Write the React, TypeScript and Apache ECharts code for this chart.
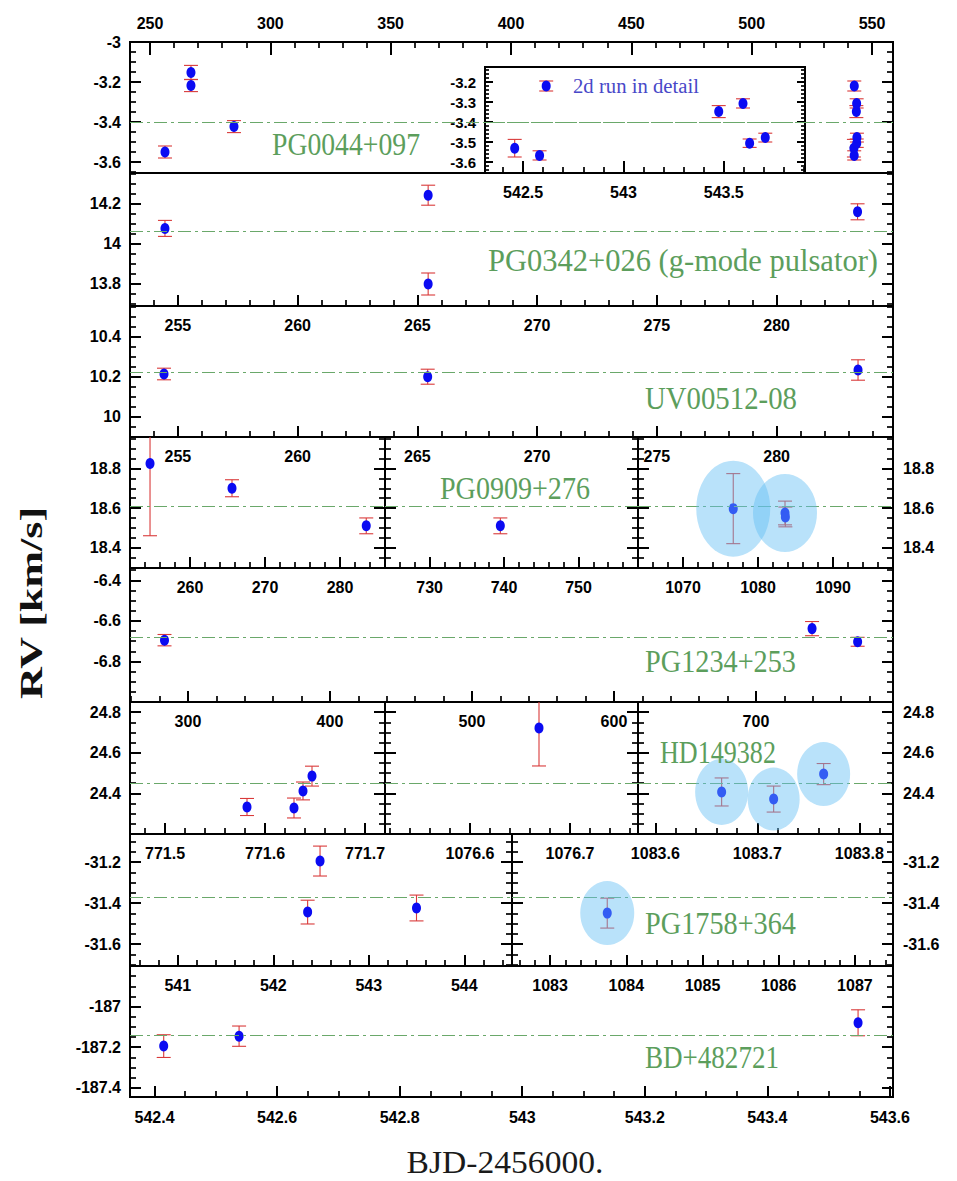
import React, { useEffect, useRef } from 'react';
import * as echarts from 'echarts';

// ---------------- data: BJD-2456000 (d), RV (km/s), error (km/s) ----------------
const PG0044_T = [256.24, 267.03, 267.03, 284.9, 542.458, 542.582, 542.615, 543.475, 543.596, 543.629, 543.707];
const PG0044_RV = [-3.55, -3.152, -3.218, -3.423, -3.531, -3.567, -3.22, -3.348, -3.307, -3.506, -3.478];
const PG0044_ERR = [0.03, 0.035, 0.03, 0.03, 0.044, 0.023, 0.025, 0.03, 0.023, 0.021, 0.022];
const PG0044_MEAN = -3.4;

const PG0342_T = [254.46, 265.45, 265.45, 283.38];
const PG0342_RV = [14.075, 14.241, 13.797, 14.158];
const PG0342_ERR = [0.04, 0.05, 0.055, 0.04];
const PG0342_MEAN = 14.065;

const UV0512_T = [254.42, 265.43, 283.4];
const UV0512_RV = [10.2125, 10.199, 10.2325];
const UV0512_ERR = [0.029, 0.0375, 0.051];
const UV0512_MEAN = 10.216;

const PG0909_T = [254.67, 265.6, 283.5, 739.5, 1076.7, 1083.6, 1083.65];
const PG0909_RV = [18.825, 18.7, 18.51, 18.51, 18.597, 18.575, 18.555];
const PG0909_ERR = [0.365, 0.043, 0.04, 0.04, 0.177, 0.06, 0.05];
const PG0909_MEAN = 18.605;
const PG0909_HIGHLIGHT = [4, 5];

const PG1234_T = [283.5, 739.5, 771.6];
const PG1234_RV = [-6.695, -6.638, -6.703];
const PG1234_ERR = [0.028, 0.035, 0.022];
const PG1234_MEAN = -6.68;

const HD149382_T = [771.582, 771.629, 771.638, 771.647, 1076.669, 1083.665, 1083.716, 1083.765];
const HD149382_RV = [24.333, 24.328, 24.412, 24.485, 24.722, 24.407, 24.372, 24.495];
const HD149382_ERR = [0.042, 0.049, 0.044, 0.049, 0.187, 0.069, 0.064, 0.052];
const HD149382_MEAN = 24.445;
const HD149382_HIGHLIGHT = [5, 6, 7];

const PG1758_T = [542.36, 542.49, 543.5, 1083.75];
const PG1758_RV = [-31.444, -31.195, -31.424, -31.449];
const PG1758_ERR = [0.058, 0.073, 0.063, 0.073];
const PG1758_MEAN = -31.37;
const PG1758_HIGHLIGHT = [3];

const BD48_T = [542.415, 542.538, 543.548];
const BD48_RV = [-187.195, -187.146, -187.08];
const BD48_ERR = [0.056, 0.05, 0.064];
const BD48_MEAN = -187.14;

const STAR_NAMES = [
  'PG0044+097',
  'PG0342+026 (g-mode pulsator)',
  'UV00512-08',
  'PG0909+276',
  'PG1234+253',
  'HD149382',
  'PG1758+364',
  'BD+482721',
];
const INSET_NOTE = '2d run in detail';
const X_TITLE = 'BJD-2456000.';
const Y_TITLE = 'RV [km/s]';

// ---------------- styles ----------------
const BLUE = '#0b0bf2';
const RED = '#d93a3a';
const GREEN = '#5c9e5c';
const GREEN_LINE = '#6aa86a';
const HILITE = 'rgba(100,190,245,0.45)';
const TICK_FONT = 'Liberation Sans';

type AxisSpec = { min: number; max: number; step: number; minor: number };

const fmt = (v: number) => String(Math.round(v * 1000) / 1000);

function makeX(gridIndex: number, a: AxisSpec, o: any = {}) {
  return {
    type: 'value',
    gridIndex,
    position: o.position || 'bottom',
    min: a.min,
    max: a.max,
    splitNumber: Math.max(1, Math.round((a.max - a.min) / a.step)),
    minInterval: a.step,
    maxInterval: a.step,
    axisLine: { show: false },
    axisTick: { show: true, inside: true, length: o.tick ?? 11, lineStyle: { color: '#000', width: 2 } },
    minorTick: { show: true, splitNumber: a.minor, length: o.mtick ?? 6, lineStyle: { color: '#000', width: 1.7 } },
    axisLabel: {
      show: o.labels !== false,
      inside: false,
      margin: o.margin ?? 11,
      showMinLabel: false,
      showMaxLabel: false,
      formatter: fmt,
      color: '#000',
      fontFamily: TICK_FONT,
      fontWeight: 'bold',
      fontSize: o.fontSize ?? 16,
    },
    splitLine: { show: false },
    minorSplitLine: { show: false },
  };
}

function makeY(gridIndex: number, a: AxisSpec, side: 'left' | 'right', o: any = {}) {
  return {
    type: 'value',
    gridIndex,
    position: side,
    min: a.min,
    max: a.max,
    splitNumber: Math.max(1, Math.round((a.max - a.min) / a.step)),
    minInterval: a.step,
    maxInterval: a.step,
    axisLine: { show: false },
    axisTick: { show: true, inside: true, length: o.tick ?? 11, lineStyle: { color: '#000', width: 2 } },
    minorTick: { show: true, splitNumber: a.minor, length: o.mtick ?? 6, lineStyle: { color: '#000', width: 1.7 } },
    axisLabel: {
      show: !!o.labels,
      inside: false,
      margin: o.margin ?? 9,
      showMinLabel: false,
      showMaxLabel: !!o.showMax,
      formatter: fmt,
      color: '#000',
      fontFamily: TICK_FONT,
      fontWeight: 'bold',
      fontSize: o.fontSize ?? 16,
    },
    splitLine: { show: false },
    minorSplitLine: { show: false },
  };
}

const renderErr = (_params: any, api: any) => {
  const x = api.value(0);
  const y = api.value(1);
  const e = api.value(2);
  const hi = api.coord([x, y + e]);
  const lo = api.coord([x, y - e]);
  const w = 7;
  const style = { stroke: RED, lineWidth: 1.1, fill: null };
  return {
    type: 'group',
    children: [
      { type: 'line', shape: { x1: hi[0], y1: hi[1], x2: lo[0], y2: lo[1] }, style },
      { type: 'line', shape: { x1: hi[0] - w, y1: hi[1], x2: hi[0] + w, y2: hi[1] }, style },
      { type: 'line', shape: { x1: lo[0] - w, y1: lo[1], x2: lo[0] + w, y2: lo[1] }, style },
    ],
  };
};

function measure(text: string, font: string) {
  const ctx = document.createElement('canvas').getContext('2d');
  if (!ctx) return 1;
  ctx.font = font;
  return ctx.measureText(text).width || 1;
}

function buildOption() {
  const grid: any[] = [];
  const xAxis: any[] = [];
  const yAxis: any[] = [];
  const series: any[] = [];

  type P = { xi: number; yi: number; xs: AxisSpec };

  const panel = (box: number[], xs: AxisSpec, ys: AxisSpec, o: any = {}): P => {
    const gi = grid.length;
    grid.push({
      left: box[0],
      top: box[1],
      width: box[2] - box[0],
      height: box[3] - box[1],
      show: true,
      borderColor: '#000',
      borderWidth: 2,
      backgroundColor: o.bg || 'transparent',
      containLabel: false,
    });
    const xi = xAxis.length;
    xAxis.push(makeX(gi, xs, o.x));
    const yi = yAxis.length;
    yAxis.push(makeY(gi, ys, 'left', o.yl));
    yAxis.push(makeY(gi, ys, 'right', o.yr));
    return { xi, yi, xs };
  };

  const plot = (p: P, T: number[], RV: number[], ERR: number[], mean: number, hl?: number[], hlSizes?: number[][]) => {
    const inX = (t: number) => t >= p.xs.min && t <= p.xs.max;
    const rows = T.map((t, i) => [t, RV[i], ERR[i]]).filter((r) => inX(r[0]));
    series.push({
      type: 'custom',
      xAxisIndex: p.xi,
      yAxisIndex: p.yi,
      clip: true,
      silent: true,
      z: 3,
      renderItem: renderErr,
      encode: { x: 0, y: 1 },
      data: rows,
    });
    series.push({
      type: 'scatter',
      xAxisIndex: p.xi,
      yAxisIndex: p.yi,
      silent: true,
      z: 4,
      symbol: 'circle',
      symbolSize: [9, 11],
      itemStyle: { color: BLUE, opacity: 1 },
      data: rows.map((r) => [r[0], r[1]]),
      markLine: {
        silent: true,
        symbol: ['none', 'none'],
        label: { show: false },
        emphasis: { disabled: true },
        lineStyle: { color: GREEN_LINE, width: 1.1, type: [13, 4, 3, 4], opacity: 1 },
        data: [{ yAxis: mean }],
      },
    });
    if (hl && hlSizes) {
      const data = hl
        .map((i, k) => ({ value: [T[i], RV[i]], symbolSize: hlSizes[k] }))
        .filter((d) => inX(d.value[0]));
      if (data.length) {
        series.push({
          type: 'scatter',
          xAxisIndex: p.xi,
          yAxisIndex: p.yi,
          silent: true,
          z: 10,
          symbol: 'circle',
          itemStyle: { color: HILITE, opacity: 1 },
          data,
        });
      }
    }
  };

  const L = 130;
  const R = 893;
  const S3 = [130, 385, 638, 893];
  const S2 = [130, 512, 893];

  // Panel 1: PG0044+097 (top axis) + inset
  const p1 = panel([L, 42, R, 173], { min: 241.7, max: 558.7, step: 50, minor: 5 }, { min: -3.655, max: -3.0, step: 0.2, minor: 4 }, {
    x: { position: 'top', tick: 13 },
    yl: { labels: true, showMax: true },
  });
  plot(p1, PG0044_T, PG0044_RV, PG0044_ERR, PG0044_MEAN);
  const inset = panel([485, 67, 805, 173], { min: 542.31, max: 543.905, step: 0.5, minor: 5 }, { min: -3.655, max: -3.125, step: 0.1, minor: 5 }, {
    bg: '#fff',
    x: { tick: 12 },
    yl: { labels: true, fontSize: 15, tick: 8, mtick: 4 },
    yr: { tick: 8, mtick: 4 },
  });
  plot(inset, PG0044_T, PG0044_RV, PG0044_ERR, PG0044_MEAN);

  // Panel 2 & 3
  const xRun1 = { min: 253.0, max: 284.86, step: 5, minor: 5 };
  const p2 = panel([L, 173, R, 306], xRun1, { min: 13.687, max: 14.352, step: 0.2, minor: 4 }, { yl: { labels: true } });
  plot(p2, PG0342_T, PG0342_RV, PG0342_ERR, PG0342_MEAN);
  const p3 = panel([L, 306, R, 437], xRun1, { min: 9.8975, max: 10.5525, step: 0.2, minor: 4 }, { yl: { labels: true } });
  plot(p3, UV0512_T, UV0512_RV, UV0512_ERR, UV0512_MEAN);

  // Panel 4: PG0909+276, three broken segments
  const y4 = { min: 18.297, max: 18.959, step: 0.2, minor: 4 };
  const x4 = [
    { min: 252, max: 286, step: 10, minor: 5 },
    { min: 724, max: 758, step: 10, minor: 5 },
    { min: 1064, max: 1098, step: 10, minor: 5 },
  ];
  const hl4 = [[74, 96], [64, 78]];
  x4.forEach((xs, k) => {
    const p = panel([S3[k], 437, S3[k + 1], 568], xs, y4, { yl: { labels: k === 0 }, yr: { labels: k === 2, margin: 10 } });
    plot(p, PG0909_T, PG0909_RV, PG0909_ERR, PG0909_MEAN, PG0909_HIGHLIGHT, hl4);
  });

  // Panel 5: PG1234+253
  const p5 = panel([L, 568, R, 702], { min: 259.2, max: 796.5, step: 100, minor: 5 }, { min: -7.0, max: -6.339, step: 0.2, minor: 4 }, { yl: { labels: true } });
  plot(p5, PG1234_T, PG1234_RV, PG1234_ERR, PG1234_MEAN);

  // Panel 6: HD149382, three broken segments
  const y6 = { min: 24.2, max: 24.85, step: 0.2, minor: 4 };
  const x6 = [
    { min: 771.465, max: 771.72, step: 0.1, minor: 5 },
    { min: 1076.515, max: 1076.768, step: 0.1, minor: 5 },
    { min: 1083.583, max: 1083.833, step: 0.1, minor: 5 },
  ];
  const hl6 = [[53, 66], [52, 63], [53, 64]];
  x6.forEach((xs, k) => {
    const p = panel([S3[k], 702, S3[k + 1], 834], xs, y6, { yl: { labels: k === 0 }, yr: { labels: k === 2, margin: 10 } });
    plot(p, HD149382_T, HD149382_RV, HD149382_ERR, HD149382_MEAN, HD149382_HIGHLIGHT, hl6);
  });

  // Panel 7: PG1758+364, two broken segments
  const y7 = { min: -31.707, max: -31.063, step: 0.2, minor: 4 };
  const x7 = [
    { min: 540.5, max: 544.5, step: 1, minor: 5 },
    { min: 1082.5, max: 1087.5, step: 1, minor: 5 },
  ];
  const hl7 = [[54, 64]];
  x7.forEach((xs, k) => {
    const p = panel([S2[k], 834, S2[k + 1], 966], xs, y7, { yl: { labels: k === 0 }, yr: { labels: k === 1, margin: 10 } });
    plot(p, PG1758_T, PG1758_RV, PG1758_ERR, PG1758_MEAN, PG1758_HIGHLIGHT, hl7);
  });

  // Panel 8: BD+482721
  const p8 = panel([L, 966, R, 1097], { min: 542.36, max: 543.605, step: 0.2, minor: 4 }, { min: -187.446, max: -186.8, step: 0.2, minor: 4 }, {
    yl: { labels: true },
    x: { margin: 12 },
  });
  plot(p8, BD48_T, BD48_RV, BD48_ERR, BD48_MEAN);

  // ---------- annotations ----------
  const labelPos = [
    { x: 272, y: 144, w: 148 },
    { x: 488, y: 261, w: 390 },
    { x: 645, y: 398, w: 152 },
    { x: 440, y: 489, w: 150 },
    { x: 645, y: 662, w: 151 },
    { x: 660, y: 752, w: 116 },
    { x: 645, y: 924, w: 151 },
    { x: 645, y: 1057, w: 134 },
  ];
  const nameFont = '31px "Liberation Serif"';
  const graphic: any[] = STAR_NAMES.map((text, i) => {
    const lp = labelPos[i];
    return {
      type: 'text',
      x: lp.x,
      y: lp.y,
      scaleX: lp.w / measure(text, nameFont),
      z: 50,
      silent: true,
      style: { text, font: nameFont, fill: GREEN, textAlign: 'left', textVerticalAlign: 'middle' },
    };
  });
  const noteFont = '20px "Liberation Serif"';
  graphic.push({
    type: 'text',
    x: 573,
    y: 86,
    scaleX: 126 / measure(INSET_NOTE, noteFont),
    z: 50,
    silent: true,
    style: { text: INSET_NOTE, font: noteFont, fill: '#4848c8', textAlign: 'left', textVerticalAlign: 'middle' },
  });
  const xtFont = '31px "Liberation Serif"';
  graphic.push({
    type: 'text',
    x: 505,
    y: 1162,
    scaleX: 197 / measure(X_TITLE, xtFont),
    z: 50,
    silent: true,
    style: { text: X_TITLE, font: xtFont, fill: '#1a1a1a', textAlign: 'center', textVerticalAlign: 'middle' },
  });
  const ytFont = 'bold 32px "Liberation Serif"';
  graphic.push({
    type: 'text',
    x: 31,
    y: 603,
    rotation: Math.PI / 2,
    scaleX: 193 / measure(Y_TITLE, ytFont),
    z: 50,
    silent: true,
    style: { text: Y_TITLE, font: ytFont, fill: '#111', textAlign: 'center', textVerticalAlign: 'middle' },
  });

  return {
    animation: false,
    backgroundColor: '#fff',
    textStyle: { fontFamily: TICK_FONT },
    grid,
    xAxis,
    yAxis,
    series,
    graphic,
  };
}

export default function App() {
  const ref = useRef<HTMLDivElement>(null);
  useEffect(() => {
    document.body.style.margin = '0';
    if (!ref.current) return;
    const chart = echarts.init(ref.current, undefined, { renderer: 'svg' });
    chart.setOption(buildOption() as any);
    return () => {
      chart.dispose();
    };
  }, []);
  return <div ref={ref} style={{ width: 957, height: 1181, background: '#fff' }} />;
}
